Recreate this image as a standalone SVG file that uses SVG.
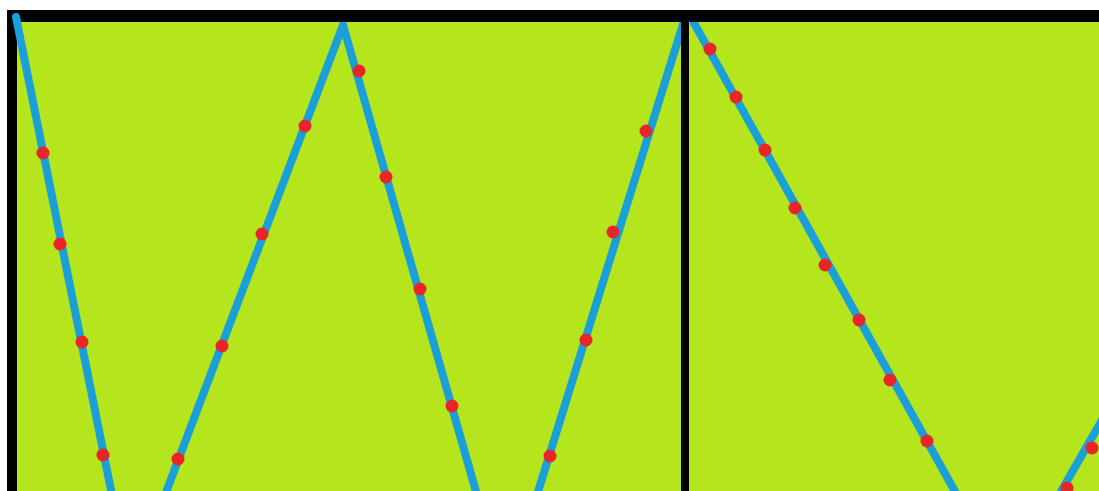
<svg xmlns="http://www.w3.org/2000/svg" width="1099" height="491" viewBox="0 0 1099 491">
<style>
.bg{fill:#b5e51d}
.frame{fill:#000}
.ln{stroke:#1a9fd8;stroke-width:8;stroke-linecap:round;fill:none;stroke-linejoin:round}
.dot{fill:#e8262a}
</style>
<rect x="0" y="0" width="1099" height="491" fill="#ffffff"/>
<rect class="bg" x="16" y="22" width="1083" height="469"/>
<g id="lines">
<polyline class="ln" points="165,495 343,25 477,495"/>
<polyline class="ln" points="537,495 683,24"/>
<polyline class="ln" points="694,23 957,495"/>
<polyline class="ln" points="1059,495 1102,420"/>
</g>
<g id="frame">
<rect class="frame" x="7" y="10" width="1092" height="12"/>
<rect class="frame" x="7" y="10" width="10" height="481"/>
<rect class="frame" x="681" y="10" width="8" height="481"/>
</g>
<g id="lines-front">
<polyline class="ln" points="16,17 112,495"/>
</g>
<g id="dots">
<circle class="dot" cx="43" cy="153" r="6.5"/>
<circle class="dot" cx="60" cy="244" r="6.5"/>
<circle class="dot" cx="82" cy="342" r="6.5"/>
<circle class="dot" cx="103" cy="455" r="6.5"/>
<circle class="dot" cx="178" cy="459" r="6.5"/>
<circle class="dot" cx="222" cy="346" r="6.5"/>
<circle class="dot" cx="262" cy="234" r="6.5"/>
<circle class="dot" cx="305" cy="126" r="6.5"/>
<circle class="dot" cx="359" cy="71" r="6.5"/>
<circle class="dot" cx="386" cy="177" r="6.5"/>
<circle class="dot" cx="420" cy="289" r="6.5"/>
<circle class="dot" cx="452" cy="406" r="6.5"/>
<circle class="dot" cx="550" cy="456" r="6.5"/>
<circle class="dot" cx="586" cy="340" r="6.5"/>
<circle class="dot" cx="613" cy="232" r="6.5"/>
<circle class="dot" cx="646" cy="131" r="6.5"/>
<circle class="dot" cx="710" cy="49" r="6.5"/>
<circle class="dot" cx="736" cy="97" r="6.5"/>
<circle class="dot" cx="765" cy="150" r="6.5"/>
<circle class="dot" cx="795" cy="208" r="6.5"/>
<circle class="dot" cx="825" cy="265" r="6.5"/>
<circle class="dot" cx="859" cy="320" r="6.5"/>
<circle class="dot" cx="890" cy="380" r="6.5"/>
<circle class="dot" cx="927" cy="441" r="6.5"/>
<circle class="dot" cx="1067" cy="488" r="6.5"/>
<circle class="dot" cx="1092" cy="448" r="6.5"/>
</g>
</svg>
